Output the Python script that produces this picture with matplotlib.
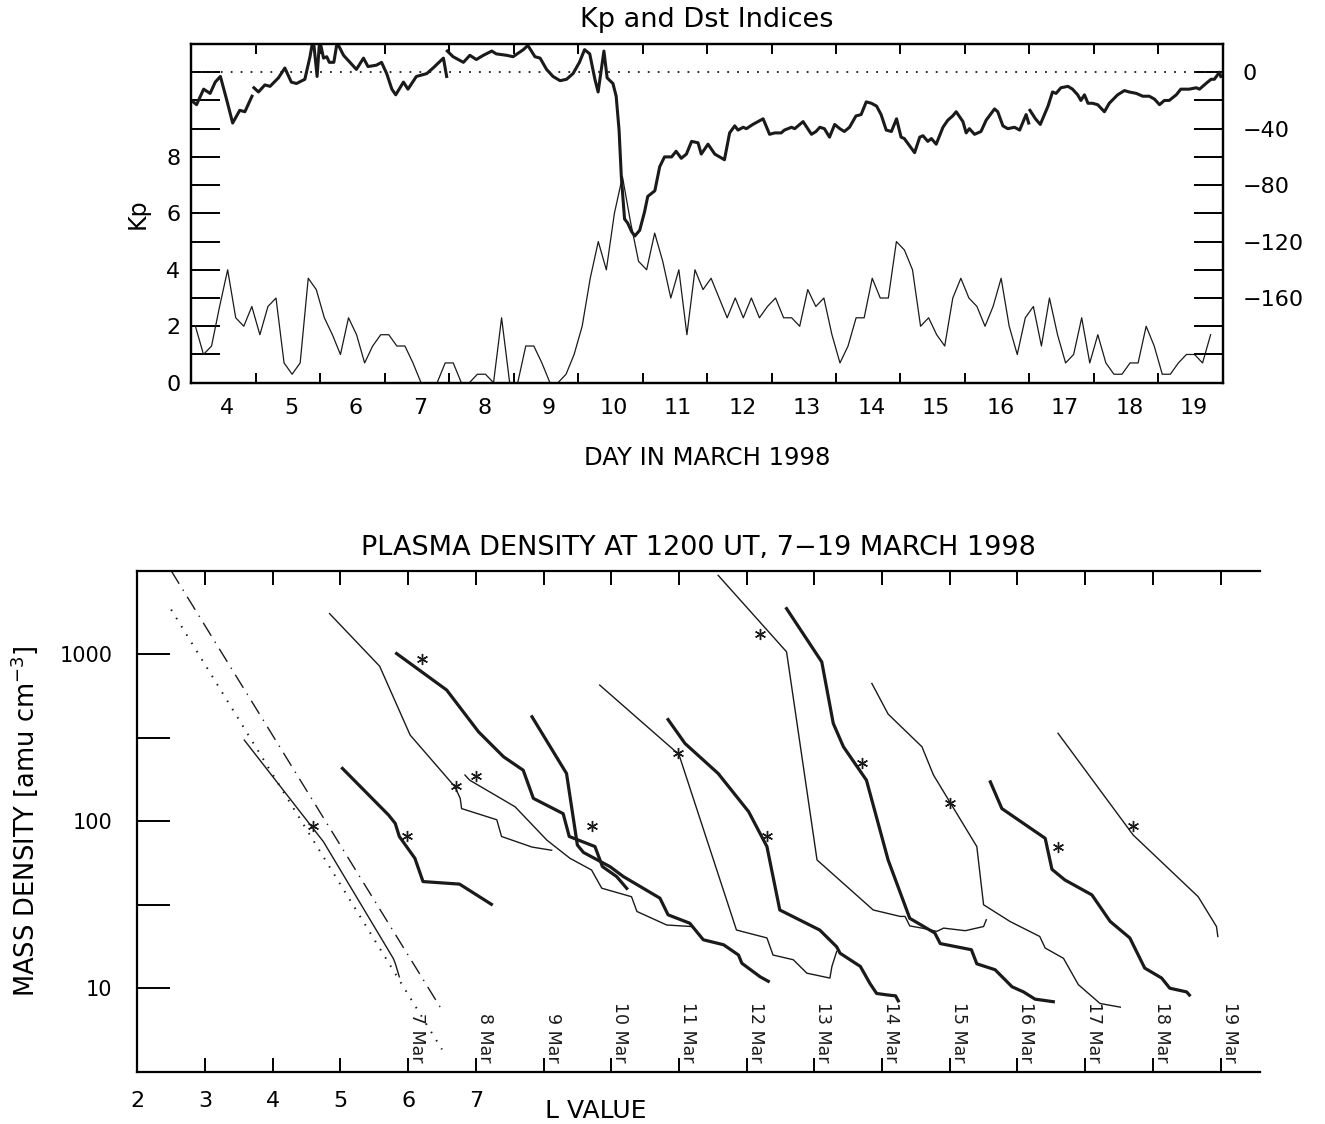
import numpy as np
import matplotlib
matplotlib.use("Agg")
import matplotlib.pyplot as plt
from matplotlib.ticker import FixedLocator, FixedFormatter, NullLocator

plt.rcParams['font.family'] = ['DejaVu Sans']

# ---------------- Top panel data ----------------
kp_values = [2.0, 1.0, 1.3, 2.7, 4.0, 2.3, 2.0, 2.7, 1.7, 2.7, 3.0,
             0.7, 0.3, 0.7, 3.7, 3.3, 2.3, 1.7, 1.0, 2.3, 1.7,
             0.7, 1.3, 1.7, 1.7, 1.3, 1.3, 0.7, 0.0, 0.0, 0.0,
             0.7, 0.7, 0.0, 0.0, 0.3, 0.3, 0.0, 2.3, 0.0, 0.0,
             1.3, 1.3, 0.7, 0.0, 0.0, 0.3, 1.0, 2.0, 3.7, 5.0,
             4.0, 6.0, 7.3, 5.7, 4.3, 4.0, 5.3, 4.3, 3.0, 4.0,
             1.7, 4.0, 3.3, 3.7, 3.0, 2.3, 3.0, 2.3, 3.0, 2.3,
             2.7, 3.0, 2.3, 2.3, 2.0, 3.3, 2.7, 3.0, 1.7, 0.7,
             1.3, 2.3, 2.3, 3.7, 3.0, 3.0, 5.0, 4.7, 4.0, 2.0,
             2.3, 1.7, 1.3, 3.0, 3.7, 3.0, 2.7, 2.0, 2.7, 3.7,
             2.0, 1.0, 2.3, 2.7, 1.3, 3.0, 1.7, 0.7, 1.0, 2.3,
             0.7, 1.7, 0.7, 0.3, 0.3, 0.7, 0.7, 2.0, 1.3, 0.3,
             0.3, 0.7, 1.0, 1.0, 0.7, 1.7]
kp_start_day = 4.0
kp_step_day = 1.0 / 8.0

nan = float('nan')
dst_day = [4.00, 4.08, 4.19, 4.29, 4.37, 4.45, 4.55, 4.64, 4.75, 4.83, 4.94, 4.955,
           4.97, 5.04, 5.14, 5.22, 5.35, 5.45, 5.55, 5.63, 5.76, 5.84, 5.89, 5.95, 5.99,
           6.05, 6.10, 6.14, 6.21, 6.26, 6.36, 6.56, 6.67, 6.74, 6.87, 6.95, 7.03, 7.11,
           7.17, 7.29, 7.36, 7.49, 7.65, 7.75, 7.91, 7.96, 7.965,
           7.97, 8.06, 8.22, 8.32, 8.42, 8.53, 8.66, 8.73, 8.89, 8.99, 9.15, 9.22, 9.33,
           9.41, 9.51, 9.61, 9.72, 9.82, 9.92, 10.02, 10.10, 10.18, 10.26, 10.31, 10.40,
           10.45, 10.54, 10.59, 10.635, 10.67, 10.72, 10.77, 10.83, 10.88, 10.955, 11.03,
           11.08, 11.19, 11.265, 11.34, 11.45, 11.52, 11.60, 11.68, 11.76, 11.86, 11.91,
           12.015, 12.12, 12.195, 12.27, 12.35, 12.43, 12.48, 12.56, 12.61, 12.71, 12.87,
           12.97, 13.05, 13.15, 13.20, 13.31, 13.36, 13.49, 13.62, 13.69, 13.75, 13.82,
           13.90, 13.98, 14.06, 14.13, 14.21, 14.31, 14.39, 14.47, 14.55, 14.63, 14.70,
           14.78, 14.86, 14.94, 15.01, 15.06, 15.14, 15.22, 15.30, 15.35, 15.425, 15.48,
           15.555, 15.66, 15.735, 15.81, 15.865, 15.97, 16.02, 16.07, 16.15, 16.25, 16.33,
           16.46, 16.51, 16.59, 16.665, 16.77, 16.85, 16.95, 16.99, 17.0,
           17.01, 17.095, 17.17, 17.235, 17.29, 17.36, 17.415, 17.49, 17.60, 17.67, 17.75,
           17.80, 17.855, 17.91, 17.98, 18.06, 18.165, 18.24, 18.37, 18.475, 18.55, 18.66,
           18.76, 18.86, 18.94, 19.02, 19.095, 19.17, 19.28, 19.35, 19.48, 19.59, 19.64,
           19.74, 19.82, 19.87, 19.95, 19.97]
dst_val = [-20, -23, -12, -15, -7, -3, -20, -36, -27, -28, -17, nan,
           -11, -14, -9, -10, -4, 3, -7, -8, -5, 11, 24, -3, 23,
           10, 11, 7, 7, 21, 12, 2, 10, 4, 5, 7, -1, -12,
           -16, -7, -12, -3, -1, 3, 10, -3, nan,
           15, 11, 7, 12, 9, 12, 15, 13, 12, 11, 16, 19, 11,
           10, 2, -3, -6, -5, -1, 7, 16, 13, -5, -14, 15,
           -4, -8, -17, -41, -74, -104, -107, -113, -116, -112, -99,
           -88, -84, -67, -60, -60, -56, -61, -58, -49, -50, -58,
           -51, -58, -60, -62, -43, -38, -41, -39, -40, -37, -33,
           -44, -43, -43, -41, -39, -40, -35, -44, -42, -39, -40,
           -46, -37, -40, -42, -39, -31, -30, -21, -22, -24, -30,
           -41, -42, -33, -46, -47, -52, -57, -46, -45, -49, -47,
           -51, -39, -34, -31, -28, -35, -43, -40, -44, -42, -34,
           -26, -28, -38, -40, -39, -41, -30, -36, nan,
           -27, -33, -37, -30, -24, -14, -15, -11, -10, -12, -16,
           -20, -16, -22, -22, -23, -28, -22, -16, -13, -14, -15,
           -17, -17, -19, -23, -20, -20, -16, -12, -12, -11, -12,
           -8, -5, -5, 0, -3]

day_ticks = list(range(5, 20))
day_labels = [str(d) for d in range(4, 20)]
kp_ticks = list(range(0, 12))
kp_labels = ['0', '', '2', '', '4', '', '6', '', '8', '', '', '']
dst_ticks = list(range(-200, 1, 20))
dst_labels = ['0', '\u221240', '\u221280', '\u2212120', '\u2212160']
dst_label_vals = [0, -40, -80, -120, -160]

# ---------------- Bottom panel data (true L, mass density) ----------------
L7 = [3.58, 4.75, 5.78, 5.81, 5.87]
rho7 = [306, 75.3, 15.1, 14.1, 11.7]
L8 = [4.03, 4.71, 4.81, 4.87, 5.10, 5.22, 5.76, 6.23]
rho8 = [207, 109, 97, 81, 60, 43.5, 42, 31.8]
L9 = [2.84, 3.58, 4.03, 4.69, 4.77, 4.79, 5.31, 5.38, 5.83, 6.12]
rho9 = [1750, 847, 328, 161, 137, 119, 102, 81, 70, 67]
L10 = [2.83, 3.57, 4.04, 4.41, 4.70, 4.85, 5.29, 5.38, 5.76, 5.87, 6.08, 6.23]
rho10 = [1009, 610, 343, 243, 202, 137, 111, 81, 70.5, 53.5, 46.6, 39.6]
L11 = [2.84, 2.91, 3.58, 4.05, 4.39, 4.71, 4.86, 5.30, 5.38, 5.82, 6.19]
rho11 = [189, 176, 122, 77, 60, 51, 39.7, 35.3, 28.8, 23.9, 23.4]
L12 = [2.83, 3.34, 3.50, 3.59, 3.98, 4.18, 4.72, 4.84, 5.16, 5.36, 5.66, 5.88, 5.93, 6.20, 6.32]
rho12 = [422, 193, 72, 65, 53.5, 46.6, 34.6, 27.5, 24.5, 19.5, 18.2, 15.8, 14.1, 11.7, 11.0]
L13 = [2.83, 4.00, 4.85, 5.30, 5.39, 5.69, 5.89, 6.23, 6.26, 6.33]
rho13 = [653, 251, 22.3, 20, 15.8, 14.8, 12.3, 11.5, 13.5, 16.6]
L14 = [2.84, 3.09, 3.58, 4.03, 4.30, 4.35, 4.49, 5.08, 5.33, 5.38, 5.68, 5.82, 5.92, 6.09, 6.20, 6.24]
rho14 = [406, 292, 193, 114, 70.5, 56, 29.4, 22.3, 17.7, 16.2, 13.5, 10.7, 9.3, 9.1, 9.0, 8.4]
L15 = [2.58, 3.59, 4.04, 4.87, 5.27, 5.34, 5.41, 5.59, 5.81, 5.91, 6.23, 6.50, 6.54]
rho15 = [2965, 1033, 58.6, 29.4, 26.9, 26.9, 23.6, 22.9, 21.9, 22.9, 22.1, 23.4, 25.7]
L16 = [2.59, 3.11, 3.28, 3.43, 3.77, 4.09, 4.41, 4.78, 4.86, 5.32, 5.40, 5.67, 5.84, 5.92, 6.09, 6.26, 6.53]
rho16 = [1875, 899, 385, 279, 176, 58.6, 26.2, 21.4, 18.5, 17.0, 14.0, 12.9, 11.0, 10.2, 9.5, 8.6, 8.3]
L17 = [2.85, 3.09, 3.59, 3.76, 4.40, 4.50, 4.89, 5.33, 5.41, 5.68, 5.90, 6.22, 6.52]
rho17 = [668, 438, 279, 189, 70.5, 31.6, 25.1, 20.4, 17.4, 15.1, 10.5, 8.1, 7.7]
L18 = [3.60, 3.77, 4.41, 4.51, 4.70, 5.10, 5.37, 5.66, 5.88, 6.13, 6.25, 6.50, 6.54]
rho18 = [172, 119, 79, 51.5, 44.5, 36.2, 25.1, 20, 13.2, 11.5, 10, 9.5, 9.1]
L19 = [3.60, 4.71, 5.67, 5.94, 5.96]
rho19 = [336, 82.6, 35.3, 23.4, 20.4]

days = [7, 8, 9, 10, 11, 12, 13, 14, 15, 16, 17, 18, 19]
star_L = [4.59, 4.99, 4.71, 3.20, 3.00, 3.71, 3.99, 4.30, 3.20, 3.70, 4.00, 4.60, 4.71]
star_rho = [93, 82, 162, 933, 186, 93, 255, 82, 1330, 222, 128, 70, 93]

model_L = [2.5, 6.5]
model_dotted = [1850, 4.3]
model_dashdot = [3160, 7.4]

L_ticks = list(range(2, 19))
L_labels = ['2', '3', '4', '5', '6', '7']
rho_ticks = [10 ** 0.5, 10 ** 1, 10 ** 1.5, 10 ** 2, 10 ** 2.5, 10 ** 3, 10 ** 3.5]
rho_labels = ['', '10', '', '100', '', '1000', '']

# ---------------- Figure ----------------
W, H = 1325, 1124
fig = plt.figure(figsize=(W / 100, H / 100), dpi=100)

def fbox(x0, y0, x1, y1):
    return [x0 / W, 1 - y1 / H, (x1 - x0) / W, (y1 - y0) / H]

ink = '#1a1a1a'
lw_ax = 1.6
fs = 16

# ---- Top panel ----
ax = fig.add_axes(fbox(191.4, 44, 1222.7, 382.7))
ax.set_xlim(4, 20)
ax.set_ylim(0, 12)
kp_t = [kp_start_day + (i + 0.5) * kp_step_day for i in range(len(kp_values))]
ax.plot(kp_t, kp_values, color=ink, lw=0.9)
for s in ax.spines.values():
    s.set_linewidth(lw_ax)
ax.xaxis.set_major_locator(FixedLocator(day_ticks))
ax.xaxis.set_major_formatter(FixedFormatter([''] * len(day_ticks)))
ax.xaxis.set_minor_locator(FixedLocator([d + 0.55 for d in range(4, 20)]))
ax.xaxis.set_minor_formatter(FixedFormatter(day_labels))
ax.tick_params(axis='x', which='major', direction='in', length=7, width=1.4,
               top=True, bottom=True)
ax.tick_params(axis='x', which='minor', length=0, labelsize=fs, pad=11)
ax.yaxis.set_major_locator(FixedLocator(kp_ticks))
ax.yaxis.set_major_formatter(FixedFormatter(kp_labels))
ax.tick_params(axis='y', direction='in', length=21, width=1.4, labelsize=fs, pad=8)
ax.set_ylabel('Kp', fontsize=17, labelpad=12)
ax.set_xlabel('DAY IN MARCH 1998', fontsize=17.5, labelpad=20)
ax.set_title('Kp and Dst Indices', fontsize=19.5, pad=12)

ax2 = ax.twinx()
ax2.set_ylim(-220, 20)
ax2.plot(dst_day, dst_val, color=ink, lw=2.2)
ax2.axhline(0, color=ink, lw=1.3, ls=(0, (1, 4.5)))
ax2.yaxis.set_major_locator(FixedLocator(dst_ticks))
ax2.yaxis.set_major_formatter(FixedFormatter(
    [dst_labels[dst_label_vals.index(v)] if v in dst_label_vals else '' for v in dst_ticks]))
ax2.tick_params(axis='y', direction='in', length=21, width=1.4, labelsize=fs, pad=14)
for s in ax2.spines.values():
    s.set_linewidth(lw_ax)

# ---- Bottom panel ----
bx = fig.add_axes(fbox(137.3, 570.7, 1259.8, 1071.7))
bx.set_yscale('log')
bx.set_xlim(2, 18.58)
bx.set_ylim(10 ** 0.5, 10 ** 3.5)
for s in bx.spines.values():
    s.set_linewidth(lw_ax)
bx.spines['right'].set_visible(False)

bx.plot(model_L, model_dotted, color=ink, lw=1.4, ls=(0, (0.8, 4.2)))
bx.plot(model_L, model_dashdot, color=ink, lw=1.0, ls=(0, (11, 5, 1, 5)))

all_L = [L7, L8, L9, L10, L11, L12, L13, L14, L15, L16, L17, L18, L19]
all_rho = [rho7, rho8, rho9, rho10, rho11, rho12, rho13, rho14, rho15, rho16, rho17, rho18, rho19]
for k, d in enumerate(days):
    off = d - 7
    thick = (d % 2 == 0)
    bx.plot([l + off for l in all_L[k]], all_rho[k], color=ink,
            lw=2.3 if thick else 1.0, solid_joinstyle='round')
    bx.plot([star_L[k] + off], [star_rho[k]], ls='none', marker=(6, 2, 0),
            ms=8, mew=1.0, color=ink)
    bx.text(6 + off, 10 ** 0.555, f'{d} Mar', rotation=270, ha='left', va='bottom',
            fontsize=12.5, color=ink)

bx.xaxis.set_major_locator(FixedLocator(L_ticks))
bx.xaxis.set_major_formatter(FixedFormatter(L_labels + [''] * (len(L_ticks) - len(L_labels))))
bx.tick_params(axis='x', direction='in', length=10, width=1.4, top=True, labelsize=fs, pad=14)
bx.yaxis.set_major_locator(FixedLocator(rho_ticks))
bx.yaxis.set_major_formatter(FixedFormatter(rho_labels))
bx.yaxis.set_minor_locator(NullLocator())
bx.tick_params(axis='y', direction='in', length=24, width=1.4, right=False, labelsize=15, pad=18)
bx.set_ylabel('MASS DENSITY [amu cm$^{-3}$]', fontsize=18.5, labelpad=14)
bx.set_title('PLASMA DENSITY AT 1200 UT, 7\u221219 MARCH 1998', fontsize=19.5, pad=11)
fig.text(596 / W, 1 - 1111 / H, 'L VALUE', ha='center', va='center', fontsize=18)

fig.savefig('out.png', dpi=100)
